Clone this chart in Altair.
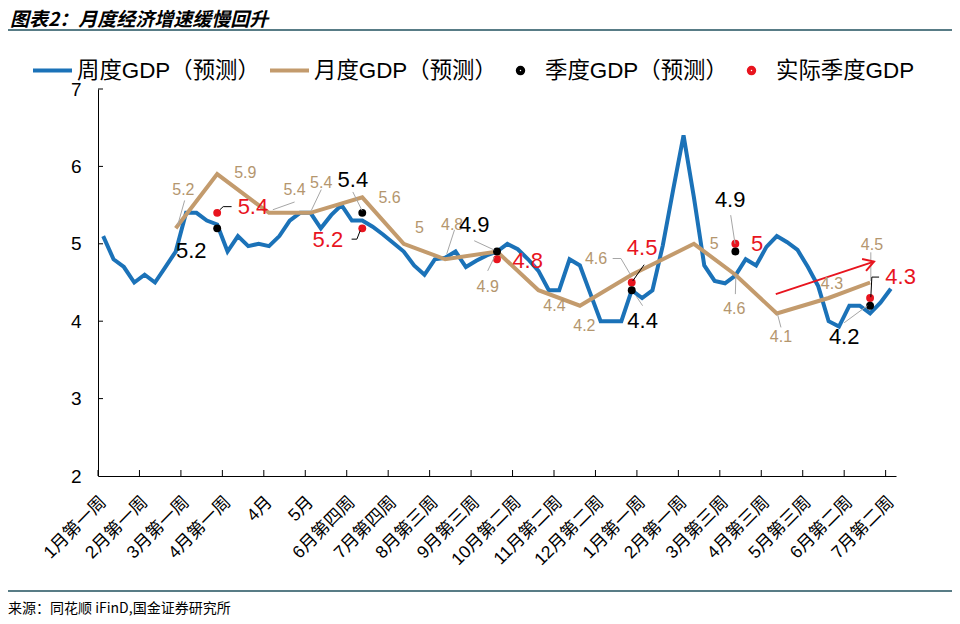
import json
import math
import altair as alt
import pandas as pd

# ---------------- data ----------------
week_labels = ["1月第一周", "2月第一周", "3月第一周", "4月第一周", "4月", "5月",
               "6月第四周", "7月第四周", "8月第三周", "9月第三周", "10月第二周",
               "11月第二周", "12月第二周", "1月第一周", "2月第一周", "3月第三周",
               "4月第三周", "5月第三周", "6月第二周", "7月第二周"]
label_every = 4

weekly_gdp = [5.1, 4.8, 4.7, 4.5, 4.6, 4.5, 4.7, 4.9, 5.4, 5.4, 5.3, 5.25, 4.9, 5.1, 4.97, 5.0, 4.97, 5.1, 5.3, 5.4,
              5.4, 5.2, 5.37, 5.5, 5.3, 5.3, 5.22, 5.12, 5.01, 4.9, 4.72, 4.6, 4.8, 4.82, 4.9, 4.7, 4.78, 4.85, 4.9, 5.0,
              4.93, 4.8, 4.65, 4.4, 4.4, 4.8, 4.72, 4.36, 4.0, 4.0, 4.0, 4.4, 4.3, 4.4, 4.98, 5.7, 6.4, 5.6, 4.72, 4.52,
              4.49, 4.59, 4.8, 4.72, 4.96, 5.1, 5.02, 4.92, 4.7, 4.45, 4.0, 3.93, 4.2, 4.2, 4.1, 4.24, 4.42]

monthly_week = [7, 11, 16, 20, 25, 29, 33, 38, 42, 46, 51, 57, 61, 65, 70, 74]
monthly_gdp = [5.2, 5.9, 5.4, 5.4, 5.6, 5.0, 4.8, 4.9, 4.4, 4.2, 4.6, 5.0, 4.6, 4.1, 4.3, 4.5]

quarter_week = [11, 25, 38, 51, 61, 74]
quarter_pred = [5.2, 5.4, 4.9, 4.4, 4.9, 4.2]
quarter_actual = [5.4, 5.2, 4.8, 4.5, 5.0, 4.3]

series_names = ["周度GDP（预测）", "月度GDP（预测）", "季度GDP（预测）", "实际季度GDP"]

# annotation anchors (data units)
monthly_label_x = [7.74, 13.71, 18.47, 21.04, 27.63, 30.52, 33.67, 37.1, 43.54, 46.43, 47.56, 58.97, 60.9, 65.4, 70.32, 74.18]
monthly_label_y = [5.70, 5.91, 5.69, 5.78, 5.59, 5.21, 5.24, 4.44, 4.2, 3.94, 4.81, 5.0, 4.16, 3.8, 4.48, 4.98]
pred_label_x = [8.5, 24.09, 35.8, 52.05, 60.5, 71.5]
pred_label_y = [4.91, 5.83, 5.24, 4.0, 5.56, 3.79]
actual_label_x = [14.45, 21.68, 40.96, 52.0, 63.1, 76.95]
actual_label_y = [5.48, 5.05, 4.78, 4.95, 5.0, 4.57]

gray_leaders = [
    [(7.86, 5.56), (7.19, 5.24)],
    [(18.47, 5.54), (16.37, 5.44)],
    [(21.04, 5.70), (20.08, 5.43)],
    [(33.9, 5.18), (33.15, 4.87)],
    [(37.1, 4.65), (37.75, 4.83)],
    [(49.16, 4.81), (49.96, 4.81), (50.93, 4.59)],
    [(61.0, 4.35), (61.05, 4.61)],
    [(65.4, 3.92), (65.07, 4.09)],
    [(74.07, 4.89), (74.07, 4.52)],
    [(24.09, 5.67), (24.98, 5.43)],
    [(35.8, 5.04), (37.73, 4.92)],
    [(51.4, 4.33), (52.05, 4.2)],
    [(60.55, 5.37), (60.97, 5.0)],
    [(71.5, 3.98), (73.73, 4.2)],
]
black_leaders = [
    [(11.26, 5.44), (11.58, 5.48), (12.39, 5.48)],
    [(23.97, 5.06), (24.48, 5.06), (24.8, 5.17)],
    [(51.1, 4.52), (52.2, 4.73)],
    [(74.07, 4.31), (74.17, 4.57), (74.87, 4.57)],
]
arrow_x = [64.9, 74.38]
arrow_y = [4.35, 4.77]

title_text = "图表2：月度经济增速缓慢回升"
source_text = "来源：同花顺 iFinD,国金证券研究所"

# ---------------- style ----------------
BLUE = "#1B72B8"
BROWN = "#C39B6D"
TAN = "#B4966E"
RED = "#E8141E"
GRAYL = "#A6A6A6"
TEAL = "#21505E"
FONT = "Liberation Sans, Noto Sans CJK SC"
CJK = "Noto Sans CJK SC"

W, H = 798, 387
n_weeks = len(weekly_gdp)
x_dom = [-0.5, n_weeks - 0.5]
y_dom = [2, 7]
xs = alt.Scale(domain=x_dom, nice=False, zero=False)
ys = alt.Scale(domain=y_dom, nice=False, zero=False)

label_pos = [i * label_every for i in range(len(week_labels))]
label_expr = json.dumps(week_labels, ensure_ascii=False) + "[round(datum.value/%d)]" % label_every


def fmt(v):
    return f"{v:g}"


df_week = pd.DataFrame({"week": list(range(n_weeks)), "gdp": weekly_gdp})
df_month = pd.DataFrame({"week": monthly_week, "gdp": monthly_gdp})
df_pred = pd.DataFrame({"week": quarter_week, "gdp": quarter_pred})
df_act = pd.DataFrame({"week": quarter_week, "gdp": quarter_actual})

x_axis = alt.Axis(values=label_pos, labelExpr=label_expr, labelAngle=-45, labelAlign="right",
                  labelBaseline="middle", labelPadding=23, ticks=False, tickSize=0, grid=False,
                  domainColor="black", domainWidth=1, labelFont=FONT, labelFontSize=17.5,
                  labelColor="black", labelOverlap=False, labelFlush=False, labelBound=False, title=None)
y_axis = alt.Axis(values=list(range(2, 8)), ticks=False, tickSize=0, grid=False, domainColor="black",
                  domainWidth=1, labelFont=FONT, labelFontSize=19, labelColor="black", labelPadding=17,
                  title=None, labelFlush=False, labelBound=False)


def X(f):
    return alt.X(f, scale=xs, axis=x_axis, title=None)


def Y(f):
    return alt.Y(f, scale=ys, axis=y_axis, title=None)


blue = alt.Chart(df_week).mark_line(color=BLUE, strokeWidth=4).encode(x=X("week:Q"), y=Y("gdp:Q"))
brown = alt.Chart(df_month).mark_line(color=BROWN, strokeWidth=4).encode(x=X("week:Q"), y=Y("gdp:Q"))

red_dots = alt.Chart(df_act).mark_circle(color=RED, size=62, opacity=1).encode(x=X("week:Q"), y=Y("gdp:Q"))
black_dots = alt.Chart(df_pred).mark_circle(color="black", size=62, opacity=1).encode(x=X("week:Q"), y=Y("gdp:Q"))


def leaders_df(segs):
    rows = []
    for s, seg in enumerate(segs):
        for o, (a, b) in enumerate(seg):
            rows.append({"seg": s, "o": o, "lx": a, "ly": b})
    return pd.DataFrame(rows)


gray_lines = alt.Chart(leaders_df(gray_leaders)).mark_line(color=GRAYL, strokeWidth=1).encode(
    x=X("lx:Q"), y=Y("ly:Q"), detail="seg:N", order="o:Q")
black_lines = alt.Chart(leaders_df(black_leaders)).mark_line(color="black", strokeWidth=1).encode(
    x=X("lx:Q"), y=Y("ly:Q"), detail="seg:N", order="o:Q")

df_ml = pd.DataFrame({"lx": monthly_label_x, "ly": monthly_label_y, "t": [fmt(v) for v in monthly_gdp]})
df_pl = pd.DataFrame({"lx": pred_label_x, "ly": pred_label_y, "t": [fmt(v) for v in quarter_pred]})
df_al = pd.DataFrame({"lx": actual_label_x, "ly": actual_label_y, "t": [fmt(v) for v in quarter_actual]})

m_labels = alt.Chart(df_ml).mark_text(font=FONT, fontSize=16, color=TAN, baseline="middle", align="center").encode(
    x=X("lx:Q"), y=Y("ly:Q"), text="t:N")
p_labels = alt.Chart(df_pl).mark_text(font=FONT, fontSize=22, color="black", baseline="middle", align="center").encode(
    x=X("lx:Q"), y=Y("ly:Q"), text="t:N")
a_labels = alt.Chart(df_al).mark_text(font=FONT, fontSize=22, color=RED, baseline="middle", align="center").encode(
    x=X("lx:Q"), y=Y("ly:Q"), text="t:N")

# arrow
df_arrow = pd.DataFrame({"ax": arrow_x, "ay": arrow_y, "o": [0, 1]})
px_x = W / (x_dom[1] - x_dom[0])
px_y = H / (y_dom[1] - y_dom[0])
ang = math.degrees(math.atan2(-(arrow_y[1] - arrow_y[0]) * px_y, (arrow_x[1] - arrow_x[0]) * px_x)) % 360
arrow_shaft = alt.Chart(df_arrow).mark_line(color=RED, strokeWidth=2).encode(x=X("ax:Q"), y=Y("ay:Q"), order="o:Q")
arrow_head = alt.Chart(df_arrow.iloc[[1]]).mark_point(
    shape="M-1,-0.6L0,0L-1,0.6", size=441, angle=ang, filled=False, color=RED, strokeWidth=2, opacity=1
).encode(x=X("ax:Q"), y=Y("ay:Q"))

# axis inner ticks
df_xt = pd.DataFrame({"b": [p - 0.5 for p in label_pos]})
x_ticks = alt.Chart(df_xt).mark_rule(color="black", strokeWidth=1).encode(
    x=X("b:Q"), y=alt.value(H), y2=alt.value(H - 6))
df_yt = pd.DataFrame({"v": list(range(3, 8))})
y_ticks = alt.Chart(df_yt).mark_rule(color="black", strokeWidth=1).encode(
    y=Y("v:Q"), x=alt.value(0), x2=alt.value(5))

# legend (built from scale domain only)
LINE_PATH = "M-1,0L1,0"
DOT_PATH = "M-0.14,0A0.14,0.14,0,1,1,0.14,0A0.14,0.14,0,1,1,-0.14,0Z"
leg_props = dict(orient="none", legendX=-67, legendY=-40, direction="horizontal", title=None,
                 labelFont=FONT, labelFontSize=22.4, labelColor="black", labelLimit=400,
                 symbolStrokeWidth=4, symbolSize=1521, symbolOpacity=1, columnPadding=2,
                 labelOffset=3, padding=0)
legend_layer = alt.Chart(pd.DataFrame({"series": series_names})).transform_filter("false").mark_point(
    filled=False, size=1521, strokeWidth=4, opacity=1
).encode(
    x=alt.value(0), y=alt.value(0),
    color=alt.Color("series:N", scale=alt.Scale(domain=series_names, range=[BLUE, BROWN, "black", RED]),
                    legend=alt.Legend(**leg_props)),
    shape=alt.Shape("series:N", scale=alt.Scale(domain=series_names, range=[LINE_PATH, LINE_PATH, DOT_PATH, DOT_PATH]),
                    legend=alt.Legend(**leg_props)),
)

# header / footer
one = pd.DataFrame({"title": [title_text], "src": [source_text]})
title_mark = alt.Chart(one).mark_text(font=CJK, fontSize=19, fontWeight="bold", fontStyle="italic",
                                      align="left", baseline="middle", color="black").encode(
    text="title:N", x=alt.value(-88), y=alt.value(-69))
src_mark = alt.Chart(one).mark_text(font=CJK, fontSize=14, align="left", baseline="middle", color="black").encode(
    text="src:N", x=alt.value(-90), y=alt.value(520))
top_rule = alt.Chart(one).mark_rule(color=TEAL, strokeWidth=1.5).encode(
    x=alt.value(-90), x2=alt.value(854), y=alt.value(-59))
bot_rule = alt.Chart(one).mark_rule(color=TEAL, strokeWidth=1.5).encode(
    x=alt.value(-90), x2=alt.value(854), y=alt.value(502))

chart = alt.layer(
    blue, brown, red_dots, black_dots, gray_lines, black_lines, arrow_shaft, arrow_head,
    m_labels, p_labels, a_labels, x_ticks, y_ticks, legend_layer,
    title_mark, src_mark, top_rule, bot_rule
).properties(
    width=W, height=H,
    autosize=alt.AutoSizeParams(type="none"),
    padding={"left": 90, "top": 81, "right": 56, "bottom": 140},
).configure_view(stroke=None).resolve_scale(color="independent", shape="independent")

chart.save("out.html", embed_options={"renderer": "svg", "actions": False})
